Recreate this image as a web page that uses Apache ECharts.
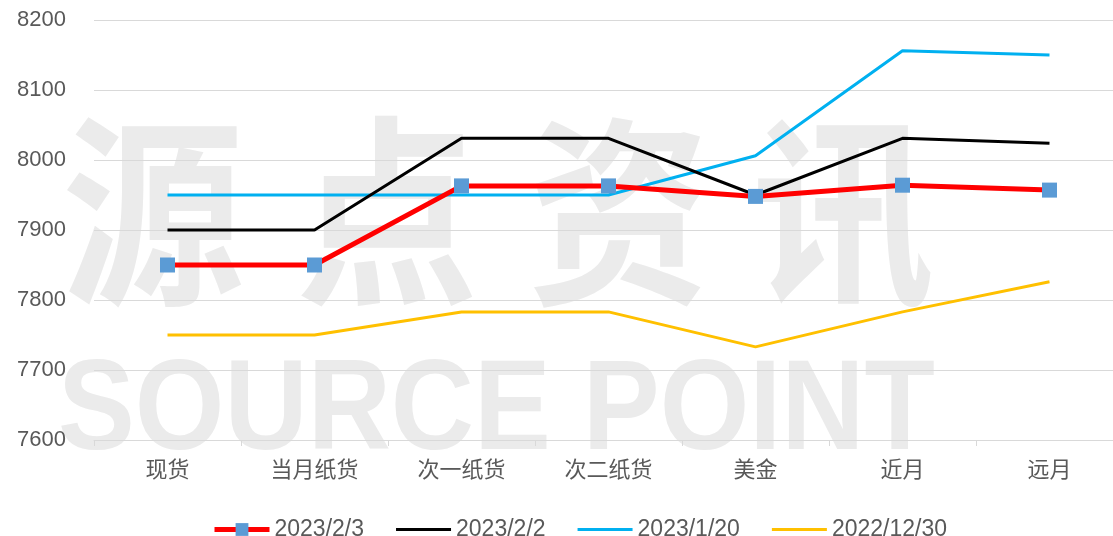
<!DOCTYPE html>
<html><head><meta charset="utf-8">
<script src="https://cdn.jsdelivr.net/npm/echarts@6/dist/echarts.min.js"></script>
<style>html,body{margin:0;padding:0;background:#fff}#c{width:1113px;height:536px}</style>
</head><body><div id="c"></div>
<script>
const categories = ['现货','当月纸货','次一纸货','次二纸货','美金','近月','远月'];
const s20230203 = [7850, 7850, 7963, 7963, 7948, 7964, 7957];
const s20230202 = [7900, 7900, 8031, 8031, 7950, 8031, 8024];
const s20230120 = [7950, 7950, 7950, 7950, 8006, 8156, 8150];
const s20221230 = [7750, 7750, 7783, 7783, 7733, 7783, 7826];
const seriesNames = ['2023/2/3','2023/2/2','2023/1/20','2022/12/30'];
const yTicks = [7600, 8200, 100];

const chart = echarts.init(document.getElementById('c'));
const wmStyle = {fill:'#ebebeb', fontFamily:'Noto Sans CJK SC', fontWeight:'bold', fontSize:182};
const wmChars = ['源','点','资','讯'];
const wmLeft = [62, 296, 528, 752];
const graphics = wmChars.map((ch,i)=>({type:'text', z:-10, x:wmLeft[i], y:110, scaleY:1.12, style:Object.assign({text:ch}, wmStyle)}));
graphics.push({type:'text', z:-10, x:58, y:350, scaleX:0.9, style:{text:'SOURCE POINT', fill:'#ebebeb', fontFamily:'Liberation Sans', fontWeight:'bold', fontSize:128}});

const lineIcon = 'path://M0,6h55v3h-55z M0,0h0.01v0.01h-0.01z M0,15h0.01v0.01h-0.01z';

chart.setOption({
  animation:false,
  graphic: graphics,
  grid:{left:94, top:20, width:1029, height:420, containLabel:false, outerBoundsMode:'none'},
  legend:{top:513, left:207, itemWidth:55, itemHeight:16, itemGap:32,
    textStyle:{color:'#595959', fontSize:23, fontFamily:'Liberation Sans'},
    data: [
      {name:seriesNames[0], lineStyle:{width:5}},
      {name:seriesNames[1], icon:lineIcon},
      {name:seriesNames[2], icon:lineIcon},
      {name:seriesNames[3], icon:lineIcon}
    ]},
  xAxis:{type:'category', data:categories, boundaryGap:true,
    axisLine:{lineStyle:{color:'#d9d9d9', width:1}},
    axisTick:{show:true, length:6, lineStyle:{color:'#d9d9d9'}},
    axisLabel:{color:'#595959', fontSize:22, margin:18, fontFamily:'Noto Sans CJK SC'}},
  yAxis:{type:'value', min:yTicks[0], max:yTicks[1], interval:yTicks[2],
    axisLine:{show:false}, axisTick:{show:false},
    splitLine:{lineStyle:{color:'#d9d9d9', width:1}},
    axisLabel:{color:'#595959', fontSize:22, margin:28, fontFamily:'Liberation Sans', formatter:v=>String(v)}},
  series:[
    {name:seriesNames[3], type:'line', data:s20221230, symbol:'none', lineStyle:{color:'#ffc000', width:3}, itemStyle:{color:'#ffc000'}, z:2},
    {name:seriesNames[2], type:'line', data:s20230120, symbol:'none', lineStyle:{color:'#00b0f0', width:3}, itemStyle:{color:'#00b0f0'}, z:3},
    {name:seriesNames[1], type:'line', data:s20230202, symbol:'none', lineStyle:{color:'#000000', width:3}, itemStyle:{color:'#000000'}, z:4},
    {name:seriesNames[0], type:'line', data:s20230203, symbol:'rect', symbolSize:15, lineStyle:{color:'#ff0000', width:5}, itemStyle:{color:'#5b9bd5'}, z:5}
  ]
});
</script></body></html>
